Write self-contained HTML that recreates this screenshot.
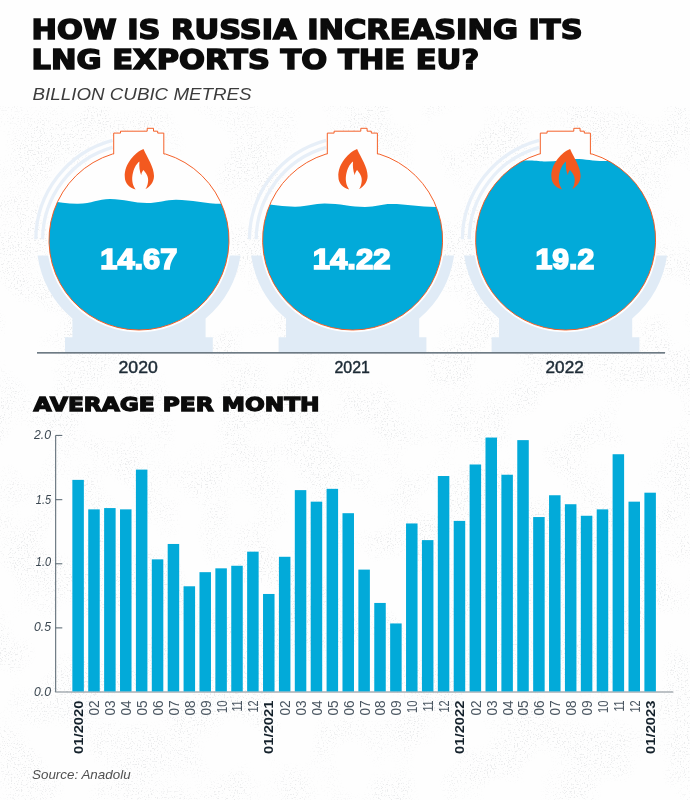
<!DOCTYPE html>
<html lang="en"><head><meta charset="utf-8"><title>How is Russia increasing its LNG exports to the EU?</title>
<style>
html,body{margin:0;padding:0;background:#fefefe;}
body{width:690px;height:800px;overflow:hidden;position:relative;font-family:"Liberation Sans",sans-serif;}
svg{position:absolute;left:0;top:0;display:block}
text{font-family:"Liberation Sans",sans-serif}
.t{font-family:"DejaVu Sans","Liberation Sans",sans-serif;font-weight:bold;fill:#0b0b0b;stroke:#0b0b0b;stroke-width:1.5px;stroke-linejoin:miter}
.sub{font-style:italic;fill:#3c3c3c}
.num{font-weight:bold;fill:#fff;stroke:#fff;stroke-width:1.7px;stroke-linejoin:miter}
.yr{fill:#1d2b36;stroke:#1d2b36;stroke-width:0.45px}
.ya{font-style:italic;fill:#3a4650}
.xl{fill:#4a5661}
.xb{font-weight:bold;fill:#14212b}
.src{font-style:italic;fill:#505050}
</style></head><body>
<svg width="690" height="800" viewBox="0 0 690 800">
<defs><filter id="gr" x="0" y="0" width="100%" height="100%" color-interpolation-filters="sRGB"><feTurbulence type="fractalNoise" baseFrequency="0.7" numOctaves="2" seed="7" result="n"/><feColorMatrix in="n" type="matrix" values="0 0 0 0 0.5  0 0 0 0 0.52  0 0 0 0 0.55  0 0 0 -7 3.0" result="sp"/><feTurbulence type="fractalNoise" baseFrequency="0.018" numOctaves="2" seed="3" result="lo"/><feColorMatrix in="lo" type="matrix" values="0 0 0 0 0  0 0 0 0 0  0 0 0 0 0  0 0 0 5 -2.1" result="mask"/><feComposite in="sp" in2="mask" operator="in"/></filter></defs>
<rect x="0" y="106" width="690" height="694" filter="url(#gr)" opacity="0.14"/>
<text class="t" x="31.6" y="38.6" font-size="27.3" textLength="551" lengthAdjust="spacingAndGlyphs">HOW IS RUSSIA INCREASING ITS</text>
<text class="t" x="31.6" y="68.6" font-size="27.3" textLength="447.5" lengthAdjust="spacingAndGlyphs">LNG EXPORTS TO THE EU?</text>
<text class="sub" x="32.6" y="99.7" font-size="17.2" textLength="219" lengthAdjust="spacingAndGlyphs">BILLION CUBIC METRES</text>
<g transform="translate(0.0,0)">
<path d="M112.5,140.3 A103.2,103.2 0 0 0 35.8,239.3" fill="none" stroke="#e7eff8" stroke-width="3.3"/>
<path d="M112.5,147.3 A96.4,96.4 0 0 0 42.6,239.3" fill="none" stroke="#e7eff8" stroke-width="3.3"/>
<path d="M37.5,255.5 L240.5,255.5 A103,103 0 0 1 205.6,318.6 L205.6,337.3 L212.8,337.3 L212.8,352.5 L65,352.5 L65,337.3 L72.4,337.3 L72.4,318.6 A103,103 0 0 1 37.5,255.5 Z" fill="#e0ebf6"/>
<clipPath id="c1"><path d="M113.7,154 L113.7,133.1 L120.5,133.1 L120.5,131.2 L147.2,131.2 L147.2,128.3 L153.5,128.3 L153.5,131.2 L157.7,131.2 L157.7,133.1 L163.8,133.1 L163.8,154 L165.5,154 A90,90 0 1 1 112.5,154 Z"/></clipPath>
<circle cx="139" cy="240" r="90" fill="none" stroke="#fefefe" stroke-width="4.4"/>
<path d="M113.7,154 L113.7,133.1 L120.5,133.1 L120.5,131.2 L147.2,131.2 L147.2,128.3 L153.5,128.3 L153.5,131.2 L157.7,131.2 L157.7,133.1 L163.8,133.1 L163.8,154 L165.5,154 A90,90 0 1 1 112.5,154 Z" fill="#fefefe"/>
<g clip-path="url(#c1)"><path d="M40,200.5 C50,200.5 65,204 78,203.8 C92,203.6 98,199 110,199 C124,199 134,203 147,203 C158,203 166,199.7 176,199.7 C192,199.7 205,203.8 222,203.8 L240,203.8 L240,340 L40,340 Z" fill="#02aad9"/></g>
<path d="M113.7,154 L113.7,133.1 L120.5,133.1 L120.5,131.2 L147.2,131.2 L147.2,128.3 L153.5,128.3 L153.5,131.2 L157.7,131.2 L157.7,133.1 L163.8,133.1 L163.8,154 L165.5,154 A90,90 0 1 1 112.5,154 Z" fill="none" stroke="#f3591f" stroke-width="0.95"/>
<path d="M143.5,149 C135.5,152 124,164 124.8,177 C124.8,183 129.4,188 135.6,189.5 C133,186 131.5,181 132.5,175 C133.5,169 136,164 139.4,161.4 C139,166 139.5,171 141.2,175.2 C141.5,173 142.3,171 143.5,170 C146,173 149,177 148,182 C147.6,185 146.8,187.5 145.4,189.1 C150,187 154,182 154,176 C154,167 147.5,158 143.5,149 Z" fill="#f3591f"/>
</g>
<g transform="translate(213.6,0)">
<path d="M112.5,140.3 A103.2,103.2 0 0 0 35.8,239.3" fill="none" stroke="#e7eff8" stroke-width="3.3"/>
<path d="M112.5,147.3 A96.4,96.4 0 0 0 42.6,239.3" fill="none" stroke="#e7eff8" stroke-width="3.3"/>
<path d="M37.5,255.5 L240.5,255.5 A103,103 0 0 1 205.6,318.6 L205.6,337.3 L212.8,337.3 L212.8,352.5 L65,352.5 L65,337.3 L72.4,337.3 L72.4,318.6 A103,103 0 0 1 37.5,255.5 Z" fill="#e0ebf6"/>
<clipPath id="c2"><path d="M113.7,154 L113.7,133.1 L120.5,133.1 L120.5,131.2 L147.2,131.2 L147.2,128.3 L153.5,128.3 L153.5,131.2 L157.7,131.2 L157.7,133.1 L163.8,133.1 L163.8,154 L165.5,154 A90,90 0 1 1 112.5,154 Z"/></clipPath>
<circle cx="139" cy="240" r="90" fill="none" stroke="#fefefe" stroke-width="4.4"/>
<path d="M113.7,154 L113.7,133.1 L120.5,133.1 L120.5,131.2 L147.2,131.2 L147.2,128.3 L153.5,128.3 L153.5,131.2 L157.7,131.2 L157.7,133.1 L163.8,133.1 L163.8,154 L165.5,154 A90,90 0 1 1 112.5,154 Z" fill="#fefefe"/>
<g clip-path="url(#c2)"><path d="M40,203 C50,203 68,206.9 82,206.7 C95,206.5 100,203.5 111,203.5 C126,203.5 138,207 151.4,207 C162,207 168,204.1 177.4,204.1 C193,204.1 206,207 222,207 L240,207 L240,340 L40,340 Z" fill="#02aad9"/></g>
<path d="M113.7,154 L113.7,133.1 L120.5,133.1 L120.5,131.2 L147.2,131.2 L147.2,128.3 L153.5,128.3 L153.5,131.2 L157.7,131.2 L157.7,133.1 L163.8,133.1 L163.8,154 L165.5,154 A90,90 0 1 1 112.5,154 Z" fill="none" stroke="#f3591f" stroke-width="0.95"/>
<path d="M143.5,149 C135.5,152 124,164 124.8,177 C124.8,183 129.4,188 135.6,189.5 C133,186 131.5,181 132.5,175 C133.5,169 136,164 139.4,161.4 C139,166 139.5,171 141.2,175.2 C141.5,173 142.3,171 143.5,170 C146,173 149,177 148,182 C147.6,185 146.8,187.5 145.4,189.1 C150,187 154,182 154,176 C154,167 147.5,158 143.5,149 Z" fill="#f3591f"/>
</g>
<g transform="translate(426.6,0)">
<path d="M112.5,140.3 A103.2,103.2 0 0 0 35.8,239.3" fill="none" stroke="#e7eff8" stroke-width="3.3"/>
<path d="M112.5,147.3 A96.4,96.4 0 0 0 42.6,239.3" fill="none" stroke="#e7eff8" stroke-width="3.3"/>
<path d="M37.5,255.5 L240.5,255.5 A103,103 0 0 1 205.6,318.6 L205.6,337.3 L212.8,337.3 L212.8,352.5 L65,352.5 L65,337.3 L72.4,337.3 L72.4,318.6 A103,103 0 0 1 37.5,255.5 Z" fill="#e0ebf6"/>
<clipPath id="c3"><path d="M113.7,154 L113.7,133.1 L120.5,133.1 L120.5,131.2 L147.2,131.2 L147.2,128.3 L153.5,128.3 L153.5,131.2 L157.7,131.2 L157.7,133.1 L163.8,133.1 L163.8,154 L165.5,154 A90,90 0 1 1 112.5,154 Z"/></clipPath>
<circle cx="139" cy="240" r="90" fill="none" stroke="#fefefe" stroke-width="4.4"/>
<path d="M113.7,154 L113.7,133.1 L120.5,133.1 L120.5,131.2 L147.2,131.2 L147.2,128.3 L153.5,128.3 L153.5,131.2 L157.7,131.2 L157.7,133.1 L163.8,133.1 L163.8,154 L165.5,154 A90,90 0 1 1 112.5,154 Z" fill="#fefefe"/>
<g clip-path="url(#c3)"><path d="M40,160.5 C60,160.5 80,161 103,160.6 C110,160.6 114,161.6 119,161.6 C130,161.6 140,159 149,159 C160,159 168,161.5 180,161 C200,161 215,160 240,160 L240,340 L40,340 Z" fill="#02aad9"/></g>
<path d="M113.7,154 L113.7,133.1 L120.5,133.1 L120.5,131.2 L147.2,131.2 L147.2,128.3 L153.5,128.3 L153.5,131.2 L157.7,131.2 L157.7,133.1 L163.8,133.1 L163.8,154 L165.5,154 A90,90 0 1 1 112.5,154 Z" fill="none" stroke="#f3591f" stroke-width="0.95"/>
<path d="M143.5,149 C135.5,152 124,164 124.8,177 C124.8,183 129.4,188 135.6,189.5 C133,186 131.5,181 132.5,175 C133.5,169 136,164 139.4,161.4 C139,166 139.5,171 141.2,175.2 C141.5,173 142.3,171 143.5,170 C146,173 149,177 148,182 C147.6,185 146.8,187.5 145.4,189.1 C150,187 154,182 154,176 C154,167 147.5,158 143.5,149 Z" fill="#f3591f"/>
</g>
<text class="num" x="100.3" y="269.2" font-size="30.3" textLength="77" lengthAdjust="spacingAndGlyphs">14.67</text>
<text class="num" x="312.8" y="269.2" font-size="30.3" textLength="77.6" lengthAdjust="spacingAndGlyphs">14.22</text>
<text class="num" x="535.5" y="269.2" font-size="30.3" textLength="58.7" lengthAdjust="spacingAndGlyphs">19.2</text>
<rect x="37" y="352.1" width="628" height="1.5" fill="#5f6d77"/>
<text class="yr" x="118.5" y="373.2" font-size="16.2" textLength="39.3" lengthAdjust="spacingAndGlyphs">2020</text>
<text class="yr" x="334.5" y="373.2" font-size="16.2" textLength="35.4" lengthAdjust="spacingAndGlyphs">2021</text>
<text class="yr" x="545.6" y="373.2" font-size="16.2" textLength="38.1" lengthAdjust="spacingAndGlyphs">2022</text>
<text class="t" x="33.5" y="410.6" font-size="19" textLength="286" style="stroke-width:1.3px" lengthAdjust="spacingAndGlyphs">AVERAGE PER MONTH</text>
<path d="M62.3,435.4 H55.7 V692.0" fill="none" stroke="#52616c" stroke-width="1"/>
<path d="M55.2,692.0 H673.3" fill="none" stroke="#7d868d" stroke-width="1.2"/>
<text class="ya" x="51" y="696.4" font-size="13" text-anchor="end" textLength="17.0" lengthAdjust="spacingAndGlyphs">0.0</text>
<path d="M55.7,627.9 H62.3" stroke="#52616c" stroke-width="1"/>
<text class="ya" x="51" y="631.2" font-size="13" text-anchor="end" textLength="17.0" lengthAdjust="spacingAndGlyphs">0.5</text>
<path d="M55.7,563.8 H62.3" stroke="#52616c" stroke-width="1"/>
<text class="ya" x="51" y="566.2" font-size="13" text-anchor="end" textLength="15.2" lengthAdjust="spacingAndGlyphs">1.0</text>
<path d="M55.7,499.7 H62.3" stroke="#52616c" stroke-width="1"/>
<text class="ya" x="51" y="504.1" font-size="13" text-anchor="end" textLength="15.2" lengthAdjust="spacingAndGlyphs">1.5</text>
<text class="ya" x="51" y="438.8" font-size="13" text-anchor="end" textLength="17.0" lengthAdjust="spacingAndGlyphs">2.0</text>
<rect x="72.35" y="479.87" width="11.50" height="211.53" fill="#02aad9"/>
<rect x="88.24" y="509.36" width="11.50" height="182.04" fill="#02aad9"/>
<rect x="104.13" y="508.07" width="11.50" height="183.33" fill="#02aad9"/>
<rect x="120.02" y="509.36" width="11.50" height="182.04" fill="#02aad9"/>
<rect x="135.91" y="469.61" width="11.50" height="221.79" fill="#02aad9"/>
<rect x="151.80" y="559.35" width="11.50" height="132.05" fill="#02aad9"/>
<rect x="167.69" y="543.97" width="11.50" height="147.43" fill="#02aad9"/>
<rect x="183.58" y="586.28" width="11.50" height="105.12" fill="#02aad9"/>
<rect x="199.47" y="572.17" width="11.50" height="119.23" fill="#02aad9"/>
<rect x="215.36" y="568.33" width="11.50" height="123.07" fill="#02aad9"/>
<rect x="231.25" y="565.76" width="11.50" height="125.64" fill="#02aad9"/>
<rect x="247.14" y="551.66" width="11.50" height="139.74" fill="#02aad9"/>
<rect x="263.03" y="593.97" width="11.50" height="97.43" fill="#02aad9"/>
<rect x="278.92" y="556.79" width="11.50" height="134.61" fill="#02aad9"/>
<rect x="294.81" y="490.13" width="11.50" height="201.27" fill="#02aad9"/>
<rect x="310.70" y="501.66" width="11.50" height="189.74" fill="#02aad9"/>
<rect x="326.59" y="488.84" width="11.50" height="202.56" fill="#02aad9"/>
<rect x="342.48" y="513.20" width="11.50" height="178.20" fill="#02aad9"/>
<rect x="358.37" y="569.61" width="11.50" height="121.79" fill="#02aad9"/>
<rect x="374.26" y="602.94" width="11.50" height="88.46" fill="#02aad9"/>
<rect x="390.15" y="623.45" width="11.50" height="67.95" fill="#02aad9"/>
<rect x="406.04" y="523.46" width="11.50" height="167.94" fill="#02aad9"/>
<rect x="421.93" y="540.12" width="11.50" height="151.28" fill="#02aad9"/>
<rect x="437.82" y="476.02" width="11.50" height="215.38" fill="#02aad9"/>
<rect x="453.71" y="520.89" width="11.50" height="170.51" fill="#02aad9"/>
<rect x="469.60" y="464.49" width="11.50" height="226.91" fill="#02aad9"/>
<rect x="485.49" y="437.56" width="11.50" height="253.84" fill="#02aad9"/>
<rect x="501.38" y="474.74" width="11.50" height="216.66" fill="#02aad9"/>
<rect x="517.27" y="440.13" width="11.50" height="251.27" fill="#02aad9"/>
<rect x="533.16" y="517.05" width="11.50" height="174.35" fill="#02aad9"/>
<rect x="549.05" y="495.25" width="11.50" height="196.15" fill="#02aad9"/>
<rect x="564.94" y="504.23" width="11.50" height="187.17" fill="#02aad9"/>
<rect x="580.83" y="515.77" width="11.50" height="175.63" fill="#02aad9"/>
<rect x="596.72" y="509.36" width="11.50" height="182.04" fill="#02aad9"/>
<rect x="612.61" y="454.23" width="11.50" height="237.17" fill="#02aad9"/>
<rect x="628.50" y="501.66" width="11.50" height="189.74" fill="#02aad9"/>
<rect x="644.39" y="492.69" width="11.50" height="198.71" fill="#02aad9"/>
<text class="xb" transform="translate(82.80,700.5) rotate(-90)" font-size="13.3" text-anchor="end" textLength="53.4" lengthAdjust="spacingAndGlyphs">01/2020</text>
<text class="xl" transform="translate(99.39,700.4) rotate(-90)" font-size="14" text-anchor="end" textLength="15.2" lengthAdjust="spacingAndGlyphs">02</text>
<text class="xl" transform="translate(115.28,700.4) rotate(-90)" font-size="14" text-anchor="end" textLength="15.2" lengthAdjust="spacingAndGlyphs">03</text>
<text class="xl" transform="translate(131.17,700.4) rotate(-90)" font-size="14" text-anchor="end" textLength="15.2" lengthAdjust="spacingAndGlyphs">04</text>
<text class="xl" transform="translate(147.06,700.4) rotate(-90)" font-size="14" text-anchor="end" textLength="15.2" lengthAdjust="spacingAndGlyphs">05</text>
<text class="xl" transform="translate(162.95,700.4) rotate(-90)" font-size="14" text-anchor="end" textLength="15.2" lengthAdjust="spacingAndGlyphs">06</text>
<text class="xl" transform="translate(178.84,700.4) rotate(-90)" font-size="14" text-anchor="end" textLength="15.2" lengthAdjust="spacingAndGlyphs">07</text>
<text class="xl" transform="translate(194.73,700.4) rotate(-90)" font-size="14" text-anchor="end" textLength="15.2" lengthAdjust="spacingAndGlyphs">08</text>
<text class="xl" transform="translate(210.62,700.4) rotate(-90)" font-size="14" text-anchor="end" textLength="15.2" lengthAdjust="spacingAndGlyphs">09</text>
<text class="xl" transform="translate(226.51,700.4) rotate(-90)" font-size="14" text-anchor="end" textLength="12.6" lengthAdjust="spacingAndGlyphs">10</text>
<text class="xl" transform="translate(242.40,700.4) rotate(-90)" font-size="14" text-anchor="end" textLength="11.2" lengthAdjust="spacingAndGlyphs">11</text>
<text class="xl" transform="translate(258.29,700.4) rotate(-90)" font-size="14" text-anchor="end" textLength="12.2" lengthAdjust="spacingAndGlyphs">12</text>
<text class="xb" transform="translate(273.48,700.5) rotate(-90)" font-size="13.3" text-anchor="end" textLength="53.4" lengthAdjust="spacingAndGlyphs">01/2021</text>
<text class="xl" transform="translate(290.07,700.4) rotate(-90)" font-size="14" text-anchor="end" textLength="15.2" lengthAdjust="spacingAndGlyphs">02</text>
<text class="xl" transform="translate(305.96,700.4) rotate(-90)" font-size="14" text-anchor="end" textLength="15.2" lengthAdjust="spacingAndGlyphs">03</text>
<text class="xl" transform="translate(321.85,700.4) rotate(-90)" font-size="14" text-anchor="end" textLength="15.2" lengthAdjust="spacingAndGlyphs">04</text>
<text class="xl" transform="translate(337.74,700.4) rotate(-90)" font-size="14" text-anchor="end" textLength="15.2" lengthAdjust="spacingAndGlyphs">05</text>
<text class="xl" transform="translate(353.63,700.4) rotate(-90)" font-size="14" text-anchor="end" textLength="15.2" lengthAdjust="spacingAndGlyphs">06</text>
<text class="xl" transform="translate(369.52,700.4) rotate(-90)" font-size="14" text-anchor="end" textLength="15.2" lengthAdjust="spacingAndGlyphs">07</text>
<text class="xl" transform="translate(385.41,700.4) rotate(-90)" font-size="14" text-anchor="end" textLength="15.2" lengthAdjust="spacingAndGlyphs">08</text>
<text class="xl" transform="translate(401.30,700.4) rotate(-90)" font-size="14" text-anchor="end" textLength="15.2" lengthAdjust="spacingAndGlyphs">09</text>
<text class="xl" transform="translate(417.19,700.4) rotate(-90)" font-size="14" text-anchor="end" textLength="12.6" lengthAdjust="spacingAndGlyphs">10</text>
<text class="xl" transform="translate(433.08,700.4) rotate(-90)" font-size="14" text-anchor="end" textLength="11.2" lengthAdjust="spacingAndGlyphs">11</text>
<text class="xl" transform="translate(448.97,700.4) rotate(-90)" font-size="14" text-anchor="end" textLength="12.2" lengthAdjust="spacingAndGlyphs">12</text>
<text class="xb" transform="translate(464.16,700.5) rotate(-90)" font-size="13.3" text-anchor="end" textLength="53.4" lengthAdjust="spacingAndGlyphs">01/2022</text>
<text class="xl" transform="translate(480.75,700.4) rotate(-90)" font-size="14" text-anchor="end" textLength="15.2" lengthAdjust="spacingAndGlyphs">02</text>
<text class="xl" transform="translate(496.64,700.4) rotate(-90)" font-size="14" text-anchor="end" textLength="15.2" lengthAdjust="spacingAndGlyphs">03</text>
<text class="xl" transform="translate(512.53,700.4) rotate(-90)" font-size="14" text-anchor="end" textLength="15.2" lengthAdjust="spacingAndGlyphs">04</text>
<text class="xl" transform="translate(528.42,700.4) rotate(-90)" font-size="14" text-anchor="end" textLength="15.2" lengthAdjust="spacingAndGlyphs">05</text>
<text class="xl" transform="translate(544.31,700.4) rotate(-90)" font-size="14" text-anchor="end" textLength="15.2" lengthAdjust="spacingAndGlyphs">06</text>
<text class="xl" transform="translate(560.20,700.4) rotate(-90)" font-size="14" text-anchor="end" textLength="15.2" lengthAdjust="spacingAndGlyphs">07</text>
<text class="xl" transform="translate(576.09,700.4) rotate(-90)" font-size="14" text-anchor="end" textLength="15.2" lengthAdjust="spacingAndGlyphs">08</text>
<text class="xl" transform="translate(591.98,700.4) rotate(-90)" font-size="14" text-anchor="end" textLength="15.2" lengthAdjust="spacingAndGlyphs">09</text>
<text class="xl" transform="translate(607.87,700.4) rotate(-90)" font-size="14" text-anchor="end" textLength="12.6" lengthAdjust="spacingAndGlyphs">10</text>
<text class="xl" transform="translate(623.76,700.4) rotate(-90)" font-size="14" text-anchor="end" textLength="11.2" lengthAdjust="spacingAndGlyphs">11</text>
<text class="xl" transform="translate(639.65,700.4) rotate(-90)" font-size="14" text-anchor="end" textLength="12.2" lengthAdjust="spacingAndGlyphs">12</text>
<text class="xb" transform="translate(654.84,700.5) rotate(-90)" font-size="13.3" text-anchor="end" textLength="53.4" lengthAdjust="spacingAndGlyphs">01/2023</text>
<text class="src" x="32" y="778.9" font-size="12.4" textLength="98.6" lengthAdjust="spacingAndGlyphs">Source: Anadolu</text>
</svg>
</body></html>
